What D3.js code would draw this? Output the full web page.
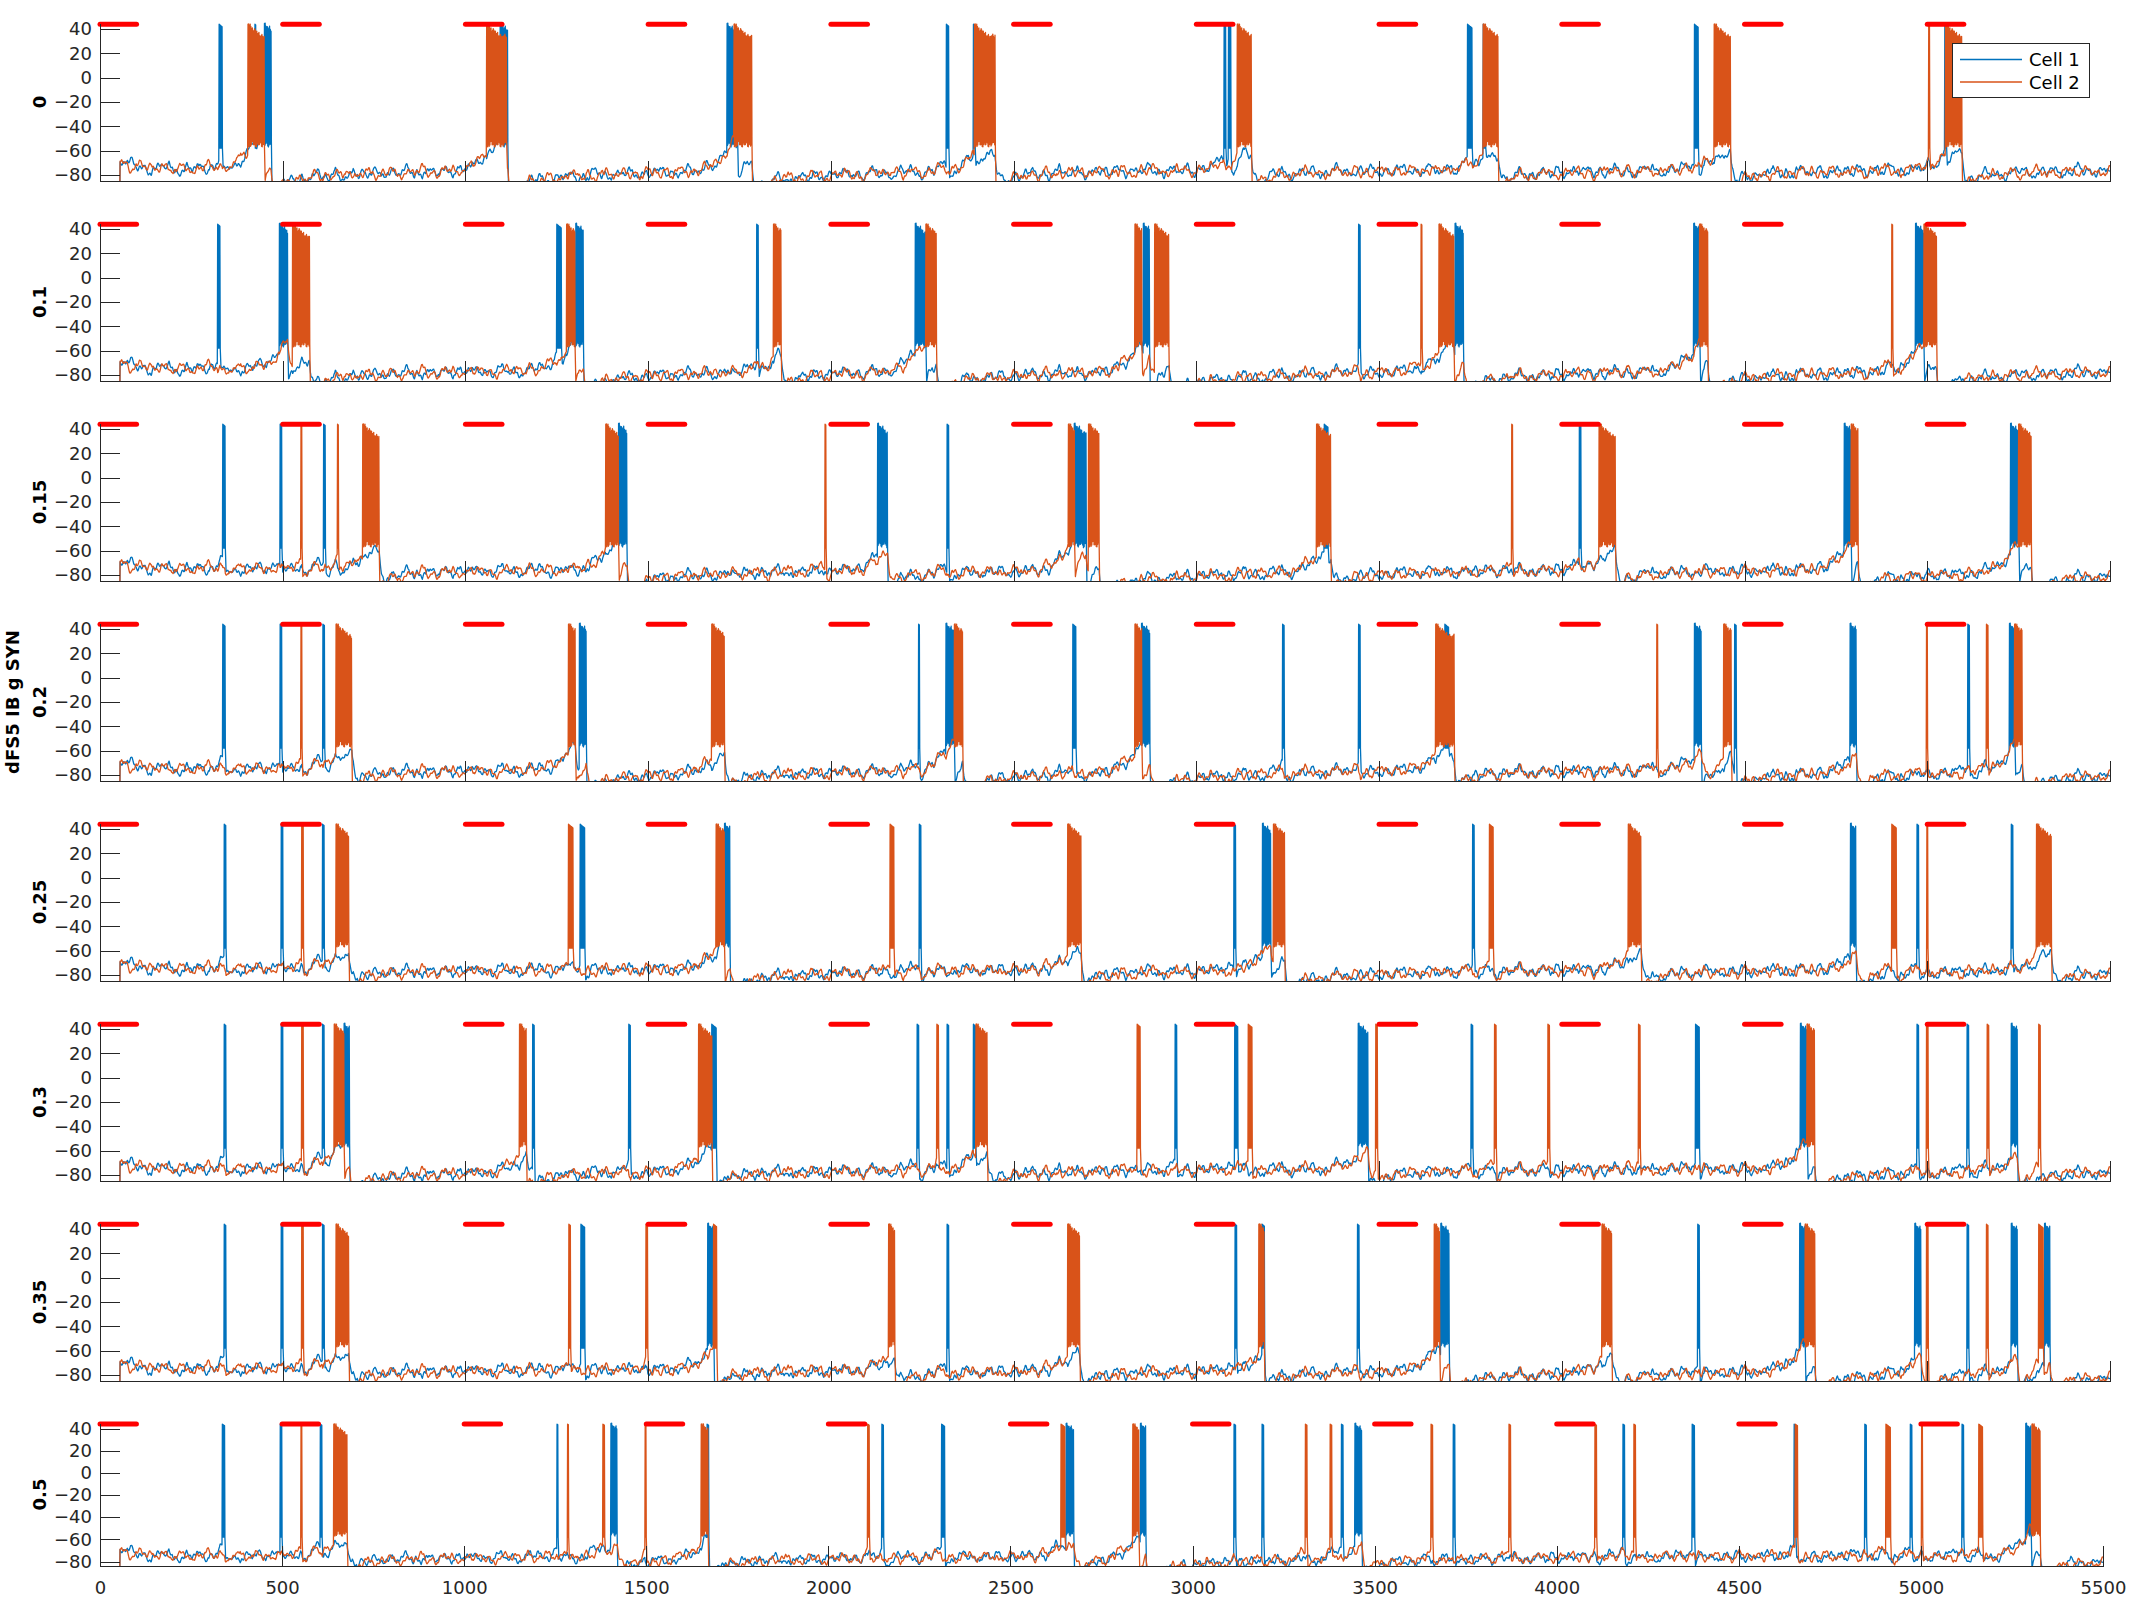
<!DOCTYPE html>
<html><head><meta charset="utf-8">
<script src="https://cdn.jsdelivr.net/npm/d3@7"></script>
<style>
body{margin:0;background:#fff}
svg{display:block}
</style>
</head><body>
<svg id="c" width="2133" height="1600"></svg>
<script>
// ---------------- data ----------------
const gLabels = ["0", "0.1", "0.15", "0.2", "0.25", "0.3", "0.35", "0.5"];
const yTitle = "dFS5 IB g SYN";
const seriesNames = ["Cell 1", "Cell 2"];
const stimOnsets = [0, 500, 1000, 1500, 2000, 2500, 3000, 3500, 4000, 4500, 5000];
const stimDuration = 100;
const stimLevel = 44;
const xTicks = [0, 500, 1000, 1500, 2000, 2500, 3000, 3500, 4000, 4500, 5000, 5500];
const yTicks = [-80, -60, -40, -20, 0, 20, 40];

// spike / burst events [start ms, end ms]
const blue_0 = [[326,334],[424,426],[450,468],[1095,1116],[1716,1745],[2316,2322],[2390,2394],[3076,3080],[3088,3094],[3742,3755],[3785,3792],[4363,4374],[5048,5052]];
const orange_0 = [[405,450],[1058,1112],[1735,1784],[2393,2449],[3112,3150],[3785,3826],[4417,4461],[5004,5006],[5050,5095]];
const blue_01 = [[322,328],[491,513],[1250,1262],[1302,1323],[1797,1801],[2231,2260],[2855,2871],[3444,3448],[3708,3731],[4361,4377],[4968,4991]];
const orange_01 = [[527,573],[1277,1300],[1843,1864],[2260,2288],[2832,2850],[2886,2925],[3615,3617],[3664,3705],[4377,4399],[4903,4906],[4991,5025]];
const blue_015 = [[336,342],[493,497],[612,616],[1419,1442],[2128,2155],[2318,2322],[2666,2698],[3350,3360],[4048,4052],[4773,4792],[5228,5250]];
const orange_015 = [[550,552],[650,652],[719,764],[1384,1419],[1984,1986],[2650,2666],[2705,2734],[3329,3368],[3863,3865],[4102,4146],[4792,4810],[5250,5285]];
const blue_02 = [[336,342],[493,497],[610,614],[1312,1330],[2240,2242],[2315,2338],[2662,2670],[2850,2873],[3236,3240],[3444,3448],[3680,3690],[4363,4381],[4473,4477],[4789,4805],[5111,5115],[5225,5239]];
const orange_02 = [[550,552],[646,689],[1282,1300],[1674,1709],[2338,2360],[2832,2850],[3655,3705],[4260,4262],[4443,4463],[4998,5000],[5162,5166],[5239,5260]];
const blue_025 = [[340,344],[496,500],[609,613],[1314,1327],[1709,1724],[2242,2246],[3103,3107],[3181,3203],[3756,3760],[4790,4805],[4972,4976],[5230,5234]];
const orange_025 = [[552,556],[646,680],[1282,1295],[1686,1709],[2162,2173],[2648,2684],[3211,3242],[3802,3813],[4182,4217],[4903,4915],[4999,5001],[5299,5339]];
const blue_03 = [[340,344],[496,500],[609,613],[668,682],[1184,1188],[1447,1451],[1674,1686],[2236,2240],[2318,2322],[2390,2397],[2942,2946],[3105,3114],[3443,3470],[3752,3756],[4366,4377],[4653,4671],[4972,4976],[5109,5113],[5230,5246]];
const orange_03 = [[552,556],[641,668],[1148,1166],[1638,1674],[2290,2294],[2397,2427],[2838,2847],[3142,3153],[3491,3495],[3816,3820],[3962,3966],[4210,4214],[4671,4692],[4998,5002],[5164,5168],[5305,5309]];
const blue_035 = [[340,344],[496,500],[609,613],[1316,1327],[1663,1679],[2318,2322],[3106,3110],[3180,3186],[3441,3445],[3669,3692],[4372,4376],[4651,4666],[4966,4983],[5109,5113],[5230,5246],[5321,5335]];
const orange_035 = [[552,556],[646,680],[1283,1287],[1494,1498],[1679,1688],[2158,2174],[2648,2680],[3171,3185],[3651,3665],[4110,4137],[4666,4692],[4998,5002],[5162,5166],[5305,5317]];
const blue_05 = [[336,343],[495,499],[605,609],[1255,1257],[1403,1420],[1667,1671],[2147,2151],[2311,2320],[2653,2673],[2857,2871],[3114,3118],[3191,3195],[3409,3413],[3446,3464],[3716,3720],[4182,4186],[4372,4379],[4652,4656],[4846,4850],[4971,4975],[5113,5117],[5288,5302]];
const orange_05 = [[552,554],[642,678],[1284,1286],[1381,1385],[1497,1500],[1651,1669],[2108,2112],[2639,2650],[2836,2853],[3310,3314],[3378,3382],[3655,3659],[3869,3873],[4105,4109],[4212,4216],[4655,4661],[4904,4916],[5002,5004],[5159,5170],[5305,5327]];

// membrane-noise texture (mV), estimated from the baseline wiggles
const noiseA = [1,3,2,0,-2,-1,1,0,-3,-2,0,2,4,2,-1,-2,0,1,-1,-3,-4,-1,1,3,2,0,1,3,1,-1,-2,-4,-2,0,2,1,-1,0,2,3,1,-2,-3,-1,0,-2,-1,2,4,3,0,-1,1,0,-2,-3,-1,1,2,0,-1,1,3,2,-1,-3,-2,0,1,-1,-2,0,2,1,3,2,0,-2,-1,1,-1,-3,-2,1,2,4,1,-1,0,-2,-1,1,3,1,-2,-4,-2,0,1,2,0,-1,1,2,-1,-2,0,3,2,1,-1,-3,-1,0,2,1,-1,-2,1,3,4,1,-1,-2,0,-1,-3,-1,1,2,1,0,-2,-1,2,3,0,-2,-3,0,1,2,0,-1,1];
const noiseB = [-1,0,2,3,1,-1,-3,-2,0,1,-1,2,3,1,0,-2,-4,-2,1,2,0,-1,1,2,4,2,-1,-2,0,-1,-3,-1,1,3,1,0,2,1,-2,-3,-2,0,2,1,-1,0,3,2,0,-2,-1,1,-2,-4,-3,0,2,3,1,-1,0,2,1,-1,-2,1,3,2,-1,-3,-1,0,1,3,2,0,-2,-3,-1,1,0,-1,2,4,2,0,-1,-2,1,2,-1,-3,-2,0,2,1,3,1,-1,-2,-1,0,2,3,0,-2,-1,1,-1,-3,-2,1,3,2,0,1,-1,-2,0,2,1,-2,-3,0,2,4,1,-1,-2,0,1,-1,-2,1,3,2,-1,0,2,1,-2,-1,0];

const blueSets = [blue_0, blue_01, blue_015, blue_02, blue_025, blue_03, blue_035, blue_05];
const orangeSets = [orange_0, orange_01, orange_015, orange_02, orange_025, orange_03, orange_035, orange_05];

// ---------------- helpers ----------------
const colors = ["#0072BD", "#D95319"];
const axisColor = "#262626";
const FONT = "'DejaVu Sans', sans-serif";

function nz(arr, u) {
  const n = arr.length, i = Math.floor(u), f = u - i;
  const a = arr[((i % n) + n) % n], b = arr[(((i + 1) % n) + n) % n];
  return a + (b - a) * f;
}

function level(t, own, other) {
  let v = -75;
  if (t < 200) v += 8 * Math.exp(-(t - 55) / 35);
  for (const [s, en] of own) {
    const big = (en - s) >= 14;
    const w = big ? 110 : 60, a = big ? 11 : 6;
    if (t < s && t > s - w) { const f = (t - s + w) / w; v += a * f * f; }
    if (t > en) {
      const d = t - en;
      v += big ? (-12 * Math.exp(-d / 30) - 5 * Math.exp(-d / 350)) : (-5 * Math.exp(-d / 18));
    }
  }
  for (const [s, en] of other) {
    const big = (en - s) >= 14;
    const w = big ? 110 : 60, a = big ? 7 : 2;
    if (t < s && t > s - w) { const f = (t - s + w) / w; v += a * f * f; }
    if (big && t >= s && t <= en) v += 6 + 8 * (1 - Math.exp(-(t - s) / 8));
    if (t > en) {
      const d = t - en;
      v += big ? (28 * Math.exp(-d / 6) - 10 * Math.exp(-d / 30) - 4 * Math.exp(-d / 350)) : (-2 * Math.exp(-d / 15));
    }
  }
  return v;
}

function buildTrace(own, other, A, B, off) {
  const ev = own.slice().sort((p, q) => p[0] - q[0]);
  const pts = [[0, -65], [1, -100], [54, -100]];
  let t = 55, ei = 0;
  while (t <= 5500) {
    if (ei < ev.length && t >= ev[ei][0]) {
      const [s, en] = ev[ei];
      const burst = (en - s) >= 14;
      let k = 0, ts;
      for (ts = s; ts <= en; ts += 2, k++) {
        const pk = burst ? 44 - Math.min(10, k * 0.55) + 0.6 * nz(A, k * 1.7 + off) : 44 - 0.5 * k;
        const tr = burst ? -55 + 0.8 * nz(B, k * 1.3 + off) : -58;
        pts.push([ts, pk]);
        pts.push([ts + 1, tr]);
      }
      t = Math.ceil(ts + 0.5);
      ei++;
      while (ei < ev.length && ev[ei][0] < t) ei++;
      continue;
    }
    const v = level(t, own, other) + 1.4 * nz(A, t / 7 + off) + 0.7 * nz(B, t / 2.2 + 17 + off);
    pts.push([t, v]);
    t += 1;
  }
  return pts;
}

// ---------------- drawing ----------------
const svg = d3.select("#c");
const defs = svg.append("defs");

gLabels.forEach((lab, i) => {
  const last = i === gLabels.length - 1;
  const top = last ? 1423 : 23 + 200 * i;
  const bottom = last ? 1566 : 181 + 200 * i;
  const x1 = last ? 2103 : 2110;
  const ymin = last ? -84 : -85;
  const x = d3.scaleLinear().domain([0, 5500]).range([100, x1]);
  const y = d3.scaleLinear().domain([ymin, 45]).range([bottom, top]);

  const clipId = "clip" + i;
  defs.append("clipPath").attr("id", clipId).append("rect")
    .attr("x", 100).attr("y", top - 4).attr("width", x1 - 100 + 1).attr("height", bottom - top + 4);

  const line = d3.line().x(d => x(d[0])).y(d => y(d[1]));
  const g = svg.append("g");

  const traces = [
    buildTrace(blueSets[i], orangeSets[i], noiseA, noiseB, 0),
    buildTrace(orangeSets[i], blueSets[i], noiseB, noiseA, 41)
  ];
  traces.forEach((pts, c) => {
    g.append("path").attr("d", line(pts)).attr("fill", "none")
      .attr("stroke", colors[c]).attr("stroke-width", 1.3)
      .attr("stroke-linejoin", "round")
      .attr("clip-path", `url(#${clipId})`);
  });

  // stimulus bars
  g.selectAll("line.stim").data(stimOnsets).join("line").attr("class", "stim")
    .attr("x1", d => x(d)).attr("x2", d => x(d + stimDuration))
    .attr("y1", y(stimLevel)).attr("y2", y(stimLevel))
    .attr("stroke", "#FF0000").attr("stroke-width", 5).attr("stroke-linecap", "round");

  // axes
  const ya = g.append("g").attr("transform", `translate(100,0)`)
    .call(d3.axisLeft(y).tickValues(yTicks).tickSize(-20).tickSizeOuter(0).tickPadding(8).tickFormat(d3.format("d")));
  const xa = g.append("g").attr("transform", `translate(0,${bottom})`)
    .call(d3.axisBottom(x).tickValues(xTicks).tickSize(-20).tickSizeOuter(0).tickPadding(15)
      .tickFormat(last ? d3.format("d") : () => ""));
  [ya, xa].forEach(a => {
    a.attr("font-family", FONT).attr("font-size", 18);
    a.selectAll("path,line").attr("stroke", axisColor).attr("stroke-width", 1).attr("shape-rendering", "crispEdges");
    a.selectAll("text").attr("fill", axisColor);
  });

  // y label
  const cy = (top + bottom) / 2;
  g.append("text").attr("transform", `translate(39,${cy}) rotate(-90)`)
    .attr("text-anchor", "middle").attr("dominant-baseline", "central")
    .attr("font-family", FONT).attr("font-weight", "bold").attr("font-size", 18)
    .attr("fill", "#000").text(lab);
  if (i === 3) {
    g.append("text").attr("transform", `translate(12,${cy}) rotate(-90)`)
      .attr("text-anchor", "middle").attr("dominant-baseline", "central")
      .attr("font-family", FONT).attr("font-weight", "bold").attr("font-size", 18)
      .attr("fill", "#000").text(yTitle);
  }
});

// legend
const lg = svg.append("g");
lg.append("rect").attr("x", 1952).attr("y", 43).attr("width", 137).attr("height", 54)
  .attr("fill", "#fff").attr("stroke", axisColor).attr("stroke-width", 1).attr("shape-rendering", "crispEdges");
seriesNames.forEach((nm, k) => {
  const yy = 59.5 + k * 22.5;
  lg.append("line").attr("x1", 1960).attr("x2", 2022).attr("y1", yy).attr("y2", yy)
    .attr("stroke", colors[k]).attr("stroke-width", 1.3);
  lg.append("text").attr("x", 2029).attr("y", yy).attr("dominant-baseline", "central")
    .attr("font-family", FONT).attr("font-size", 18).attr("fill", "#000").text(nm);
});
</script>
</body></html>
